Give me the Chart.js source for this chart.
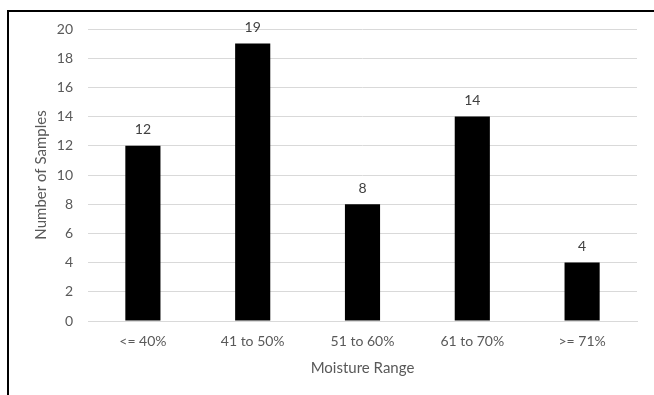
<!DOCTYPE html>
<html>
<head>
<meta charset="utf-8">
<script src="https://cdn.jsdelivr.net/npm/chart.js@4/dist/chart.umd.min.js"></script>
<style>
  html, body { margin: 0; padding: 0; background: #fff; }
  #wrap { position: relative; width: 654px; height: 395px; overflow: hidden; }
  #frame { position: absolute; left: 7px; top: 10px; right: -10px; bottom: -10px;
           border-left: 2px solid #000; border-top: 2px solid #000; pointer-events: none; }
  canvas { position: absolute; left: 0; top: 0; }
</style>
</head>
<body>
<div id="wrap">
  <canvas id="chart" width="654" height="395"></canvas>
  <div id="frame"></div>
</div>
<script>
// Sample counts per moisture range
const categories = ['<= 40%', '41 to 50%', '51 to 60%', '61 to 70%', '>= 71%'];
const sampleCounts = [12, 19, 8, 14, 4];
const yTicks = [0, 2, 4, 6, 8, 10, 12, 14, 16, 18, 20];

const FONT = 'Lato, "Open Sans", sans-serif';

// Writes each bar's value just above it
const valueLabels = {
  id: 'valueLabels',
  afterDatasetsDraw(chart) {
    const ctx = chart.ctx;
    const meta = chart.getDatasetMeta(0);
    ctx.save();
    ctx.font = '14px ' + FONT;
    ctx.fillStyle = '#404040';
    ctx.textAlign = 'center';
    ctx.textBaseline = 'middle';
    meta.data.forEach((bar, i) => {
      const { x, y } = bar.getProps(['x', 'y'], true);
      ctx.fillText(String(sampleCounts[i]), x, y - 16);
    });
    ctx.restore();
  }
};

new Chart(document.getElementById('chart'), {
  type: 'bar',
  data: {
    labels: categories,
    datasets: [{
      data: sampleCounts,
      backgroundColor: '#000000',
      borderWidth: 0,
      barPercentage: 0.64,
      categoryPercentage: 0.5
    }]
  },
  options: {
    responsive: false,
    animation: false,
    events: [],
    layout: { padding: { left: 32, right: 17, top: 29, bottom: 18 } },
    plugins: { legend: { display: false }, tooltip: { enabled: false } },
    scales: {
      x: {
        grid: { display: false },
        border: { display: true, color: '#d9d9d9', width: 1 },
        ticks: { color: '#595959', font: { family: FONT, size: 14 }, padding: 4, maxRotation: 0 },
        title: { display: true, text: 'Moisture Range', color: '#595959',
                 font: { family: FONT, size: 15 }, padding: { top: 8, bottom: 0 } },
        afterFit(scale) { scale.height = 56; }
      },
      y: {
        min: 0, max: 20,
        afterBuildTicks(scale) { scale.ticks = yTicks.map(v => ({ value: v })); },
        grid: { color: '#d9d9d9', lineWidth: 1, drawTicks: false },
        border: { display: false },
        ticks: { color: '#595959', font: { family: FONT, size: 14 }, padding: 15 },
        title: { display: true, text: 'Number of Samples', color: '#595959',
                 font: { family: FONT, size: 15 }, padding: { top: 0, bottom: 0 } },
        afterFit(scale) { scale.width = 56; }
      }
    }
  },
  plugins: [valueLabels]
});
</script>
</body>
</html>
